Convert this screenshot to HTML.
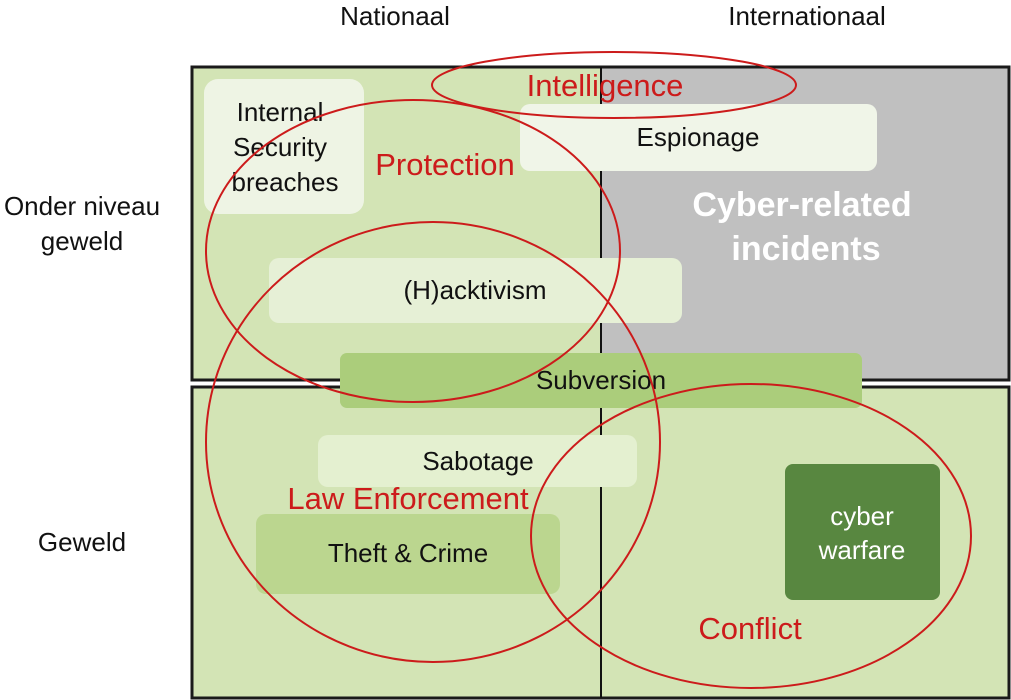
<!DOCTYPE html>
<html><head><meta charset="utf-8"><style>
html,body{margin:0;padding:0;background:#fff;}
svg{display:block;font-family:"Liberation Sans",sans-serif;}
</style></head><body>
<svg width="1011" height="700" viewBox="0 0 1011 700" xmlns="http://www.w3.org/2000/svg">
<rect x="192" y="67" width="817" height="313" fill="#d3e4b5" stroke="#1a1a1a" stroke-width="3"/>
<rect x="601" y="67" width="408" height="313" fill="#c0c0c0"/>
<rect x="192" y="67" width="817" height="313" fill="none" stroke="#1a1a1a" stroke-width="3"/>
<rect x="192" y="387" width="817" height="311" fill="#d3e4b5" stroke="#1a1a1a" stroke-width="3"/>
<line x1="601" y1="67" x2="601" y2="698" stroke="#111" stroke-width="2"/>
<rect x="204" y="79" width="160" height="135" rx="14" fill="#eef4e4"/>
<rect x="520" y="104" width="357" height="67" rx="10" fill="#f0f5e8"/>
<rect x="269" y="258" width="413" height="65" rx="10" fill="#e6f0d6"/>
<rect x="340" y="353" width="522" height="55" rx="7" fill="#abcd7b"/>
<rect x="318" y="435" width="319" height="52" rx="10" fill="#e4f0d0"/>
<rect x="256" y="514" width="304" height="80" rx="10" fill="#bbd68f"/>
<rect x="785" y="464" width="155" height="136" rx="8" fill="#588740"/>
<g font-size="26" fill="#111" text-anchor="middle">
<text x="395" y="25">Nationaal</text>
<text x="807" y="25">Internationaal</text>
<text x="82" y="215">Onder niveau</text>
<text x="82" y="250">geweld</text>
<text x="82" y="551">Geweld</text>
<text x="280" y="121">Internal</text>
<text x="280" y="156">Security</text>
<text x="285" y="191">breaches</text>
<text x="698" y="146">Espionage</text>
<text x="475" y="299">(H)acktivism</text>
<text x="601" y="389">Subversion</text>
<text x="478" y="470">Sabotage</text>
<text x="408" y="562">Theft &amp; Crime</text>
<text x="862" y="525" fill="#fff">cyber</text>
<text x="862" y="559" fill="#fff">warfare</text>
</g>
<g font-size="34" font-weight="bold" fill="#fff" text-anchor="middle">
<text x="802" y="216">Cyber-related</text>
<text x="806" y="260">incidents</text>
</g>
<g fill="none" stroke="#cc1b1b" stroke-width="2">
<ellipse cx="614" cy="85" rx="182" ry="33"/>
<ellipse cx="413" cy="251" rx="207" ry="151"/>
<ellipse cx="433" cy="442" rx="227" ry="220"/>
<ellipse cx="751" cy="536" rx="220" ry="152"/>
</g>
<g font-size="31" fill="#cc1b1b" text-anchor="middle">
<text x="605" y="96">Intelligence</text>
<text x="445" y="175">Protection</text>
<text x="408" y="509">Law Enforcement</text>
<text x="750" y="639">Conflict</text>
</g>
</svg>
</body></html>
